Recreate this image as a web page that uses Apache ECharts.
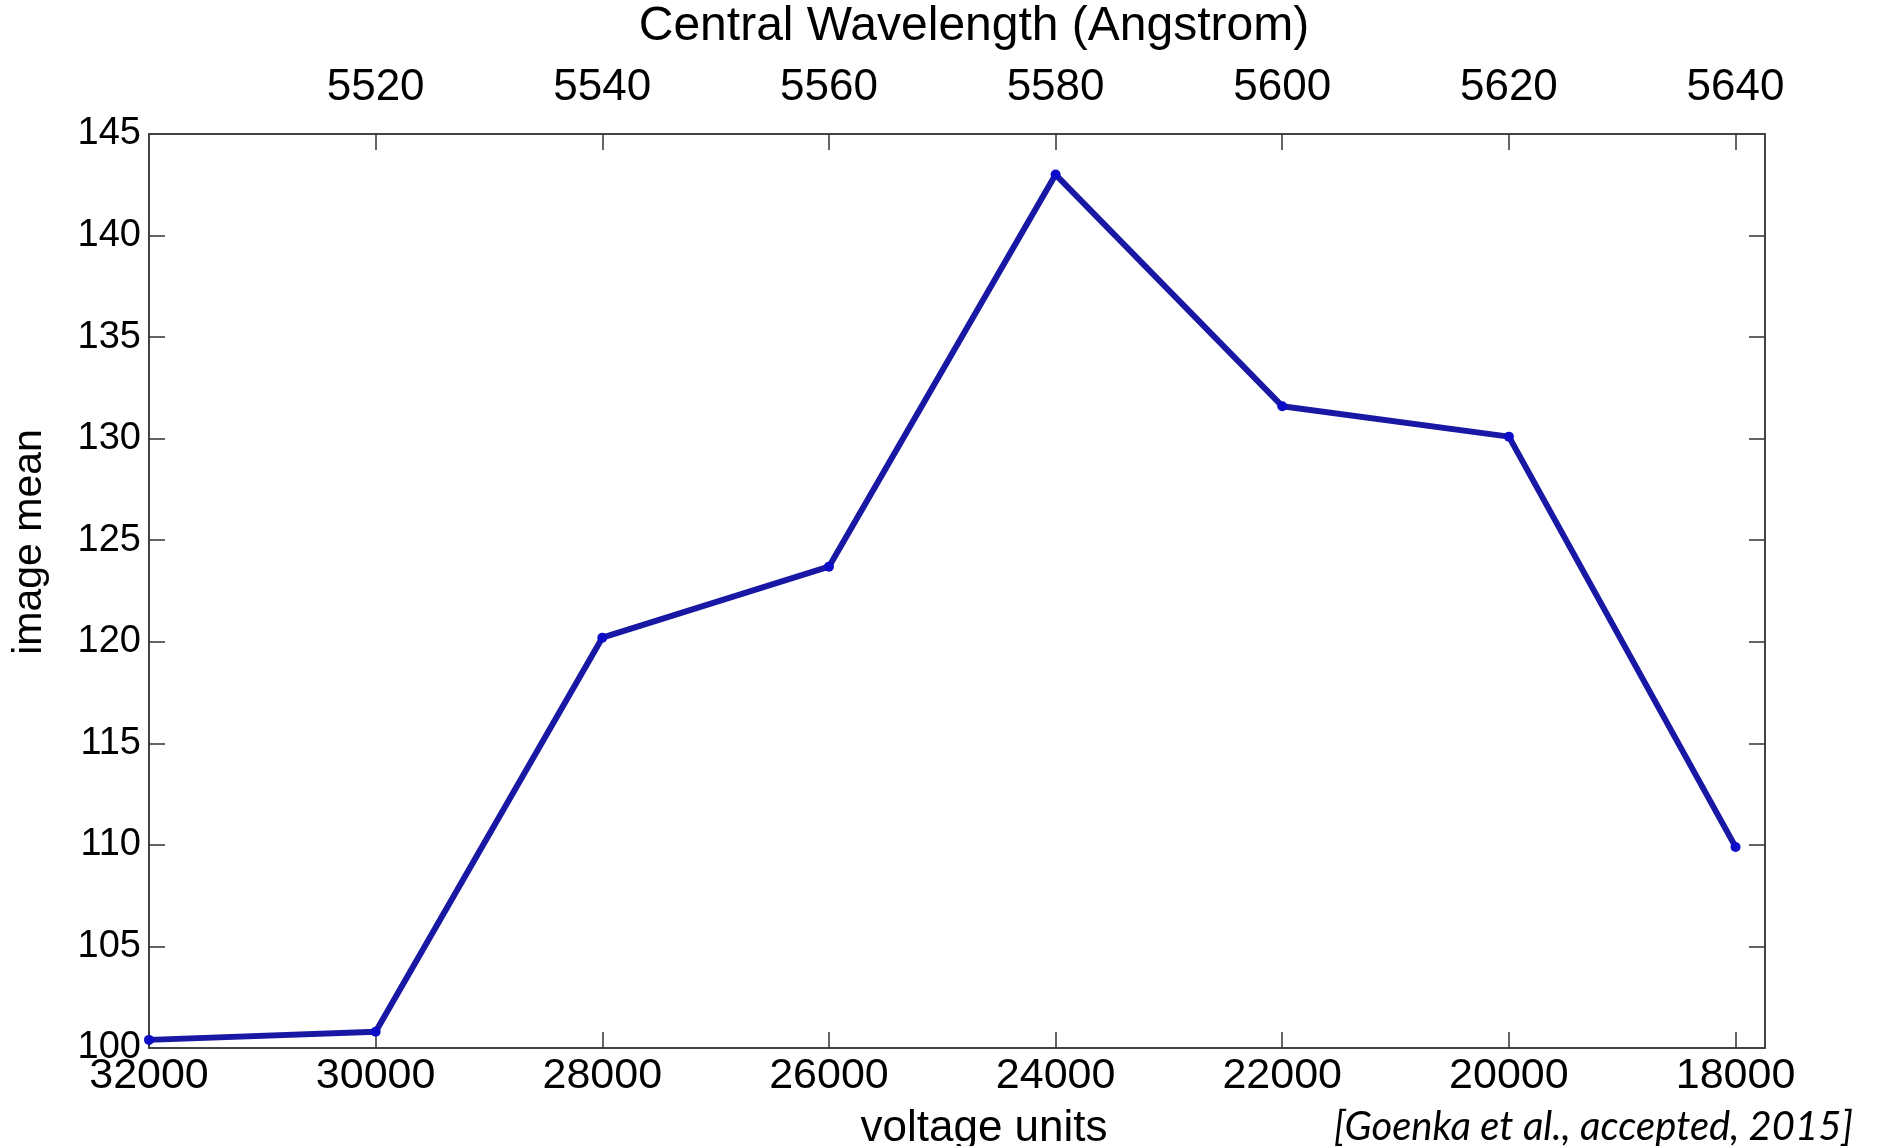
<!DOCTYPE html>
<html>
<head>
<meta charset="utf-8">
<script src="https://cdn.jsdelivr.net/npm/echarts@6/dist/echarts.min.js"></script>
<style>
html,body{margin:0;padding:0;background:#fff;}
#chart{width:1878px;height:1146px;}
</style>
</head>
<body>
<div id="chart"></div>
<script>
// ---- data ----
var voltageUnits = [32000, 30000, 28000, 26000, 24000, 22000, 20000, 18000];
var imageMean    = [100.4, 100.8, 120.2, 123.7, 143.0, 131.6, 130.1, 109.9];
var voltageTicks = [32000, 30000, 28000, 26000, 24000, 22000, 20000, 18000];
var wavelengthTicks = [5520, 5540, 5560, 5580, 5600, 5620, 5640];
var meanTicks = [100, 105, 110, 115, 120, 125, 130, 135, 140, 145];

var chart = echarts.init(document.getElementById('chart'), null, {renderer: 'canvas'});
var FONT = '"Liberation Sans", Arial, sans-serif';
var axisLineStyle = {color: '#444', width: 2};
var tickStyle = {color: '#333', width: 1.5};

var option = {
  backgroundColor: '#ffffff',
  animation: false,
  grid: {left: 149, right: 113, top: 134, bottom: 98, containLabel: false},
  xAxis: [
    {
      type: 'value', position: 'bottom', inverse: true,
      min: 17740, max: 32000,
      axisLine: {show: true, onZero: false, lineStyle: axisLineStyle},
      axisTick: {show: true, inside: true, length: 16, lineStyle: tickStyle, customValues: voltageTicks},
      axisLabel: {show: true, margin: 7, color: '#000', fontFamily: FONT, fontSize: 43,
                  customValues: voltageTicks, formatter: function (v) { return String(v); }},
      splitLine: {show: false}
    },
    {
      type: 'value', position: 'top',
      min: 5500, max: 5642.6,
      axisLine: {show: true, onZero: false, lineStyle: axisLineStyle},
      axisTick: {show: true, inside: true, length: 16, lineStyle: tickStyle, customValues: wavelengthTicks},
      axisLabel: {show: true, margin: 24, color: '#000', fontFamily: FONT, fontSize: 44,
                  customValues: wavelengthTicks, formatter: function (v) { return String(v); }},
      splitLine: {show: false}
    }
  ],
  yAxis: [
    {
      type: 'value', position: 'left',
      min: 100, max: 145, interval: 5,
      axisLine: {show: true, onZero: false, lineStyle: axisLineStyle},
      axisTick: {show: true, inside: true, length: 16, lineStyle: tickStyle, customValues: meanTicks.slice(1, -1)},
      axisLabel: {show: true, margin: 8, color: '#000', fontFamily: FONT, fontSize: 38,
                  customValues: meanTicks},
      splitLine: {show: false}
    },
    {
      type: 'value', position: 'right',
      min: 100, max: 145, interval: 5,
      axisLine: {show: true, onZero: false, lineStyle: axisLineStyle},
      axisTick: {show: true, inside: true, length: 16, lineStyle: tickStyle, customValues: meanTicks.slice(1, -1)},
      axisLabel: {show: false},
      splitLine: {show: false}
    }
  ],
  series: [{
    type: 'line',
    xAxisIndex: 0, yAxisIndex: 0,
    data: voltageUnits.map(function (v, i) { return [v, imageMean[i]]; }),
    lineStyle: {color: '#1818a4', width: 6},
    symbol: 'circle', symbolSize: 10,
    itemStyle: {color: '#0c0cc8'},
    showAllSymbol: true,
    z: 5
  }],
  graphic: [
    {type: 'text', x: 974, y: 27,
     style: {text: 'Central Wavelength (Angstrom)', fontFamily: FONT, fontSize: 48, fill: '#000', align: 'center', verticalAlign: 'middle'}},
    {type: 'text', x: 984, y: 1129,
     style: {text: 'voltage units', fontFamily: FONT, fontSize: 44, fill: '#000', align: 'center', verticalAlign: 'middle'}},
    {type: 'text', x: 30, y: 542, rotation: Math.PI / 2,
     style: {text: 'image mean', fontFamily: FONT, fontSize: 41, fill: '#000', align: 'center', verticalAlign: 'middle'}},
    {type: 'text', x: 1853, y: 1127,
     style: {text: '[Goenka et al., accepted, 2015]', fontFamily: '"Lato", "Open Sans", sans-serif', fontStyle: 'italic',
             fontSize: 40, fill: '#000', align: 'right', verticalAlign: 'middle'}}
  ]
};
chart.setOption(option);
</script>
</body>
</html>
